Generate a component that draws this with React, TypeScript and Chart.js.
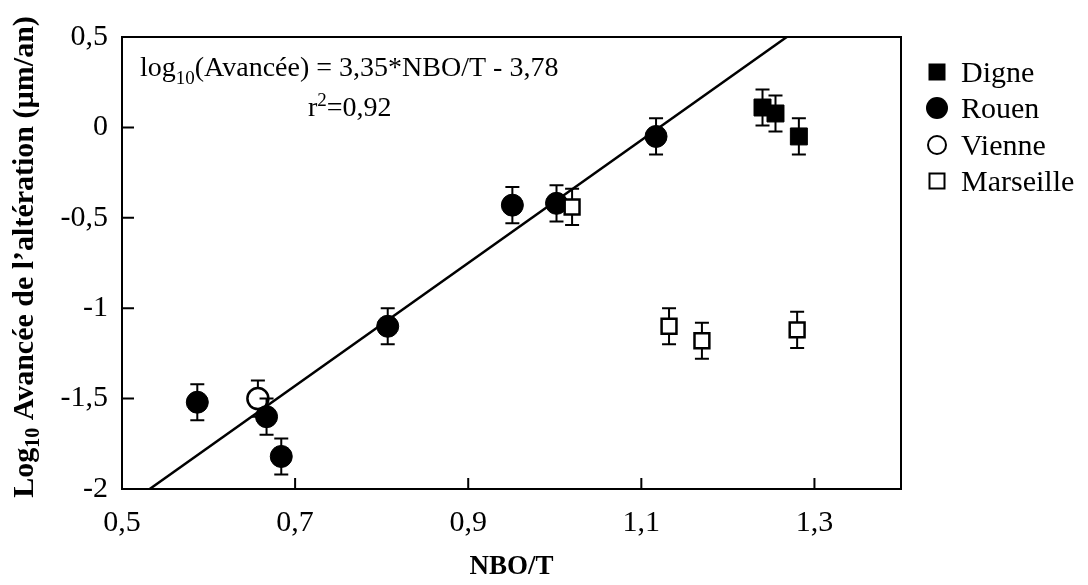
import React, { useEffect, useRef } from "react";
import { Chart, registerables } from "chart.js";

Chart.register(...registerables);

// ---- Data ----
const digneX = [1.24, 1.255, 1.282];
const digneY = [0.11, 0.077, -0.05];
const rouenX = [0.587, 0.667, 0.684, 0.807, 0.951, 1.002, 1.117];
const rouenY = [-1.52, -1.6, -1.82, -1.1, -0.43, -0.42, -0.05];
const vienneX = [0.657];
const vienneY = [-1.5];
const marseilleX = [1.02, 1.132, 1.17, 1.28];
const marseilleY = [-0.44, -1.1, -1.18, -1.12];
const errorHalf = 0.1;
const fitX = [0.532, 1.268];
const fitY = [-2, 0.5];
const xTicks = [0.5, 0.7, 0.9, 1.1, 1.3];
const yTicks = [0.5, 0, -0.5, -1, -1.5, -2];
const seriesNames = ["Digne", "Rouen", "Vienne", "Marseille"];
const equationMain = "(Avancée) = 3,35*NBO/T - 3,78";
const r2Text = "=0,92";
const xTitle = "NBO/T";
const yTitleRest = " Avancée de l’altération (µm/an)";

const FONT = "'Liberation Serif', 'Times New Roman', serif";

const pts = (xs: number[], ys: number[]) => xs.map((x, i) => ({ x, y: ys[i] }));
const fmt = (v: number) => String(v).replace(".", ",");

const decorPlugin = {
  id: "decor",
  beforeDatasetDraw(chart: any, args: any) {
    const ds = chart.data.datasets[args.index];
    if (!ds.errorBar) return;
    const ctx = chart.ctx;
    const xs = chart.scales.x;
    const ys = chart.scales.y;
    ctx.save();
    ctx.strokeStyle = "#000";
    ctx.lineWidth = 2;
    ds.data.forEach((p: any) => {
      const px = xs.getPixelForValue(p.x);
      const top = ys.getPixelForValue(p.y + errorHalf);
      const bot = ys.getPixelForValue(p.y - errorHalf);
      ctx.beginPath();
      ctx.moveTo(px, top);
      ctx.lineTo(px, bot);
      ctx.moveTo(px - 7, top);
      ctx.lineTo(px + 7, top);
      ctx.moveTo(px - 7, bot);
      ctx.lineTo(px + 7, bot);
      ctx.stroke();
    });
    ctx.restore();
  },
  afterDraw(chart: any) {
    const ctx = chart.ctx;
    const a = chart.chartArea;
    const xs = chart.scales.x;
    const ys = chart.scales.y;
    ctx.save();
    ctx.strokeStyle = "#000";
    ctx.lineWidth = 2;
    // frame
    ctx.strokeRect(a.left, a.top, a.right - a.left, a.bottom - a.top);
    // inward ticks
    ctx.beginPath();
    xTicks.forEach((v) => {
      const px = xs.getPixelForValue(v);
      ctx.moveTo(px, a.bottom);
      ctx.lineTo(px, a.bottom - 11);
    });
    yTicks.forEach((v) => {
      const py = ys.getPixelForValue(v);
      ctx.moveTo(a.left, py);
      ctx.lineTo(a.left + 12, py);
    });
    ctx.stroke();

    ctx.fillStyle = "#000";
    ctx.textBaseline = "alphabetic";
    // equation
    ctx.textAlign = "left";
    ctx.font = `28px ${FONT}`;
    let x0 = 140;
    const by = 76;
    ctx.fillText("log", x0, by);
    x0 += ctx.measureText("log").width;
    ctx.font = `19px ${FONT}`;
    ctx.fillText("10", x0, by + 8);
    x0 += ctx.measureText("10").width;
    ctx.font = `28px ${FONT}`;
    ctx.fillText(equationMain, x0, by);
    // r2
    let rx = 308;
    const ry = 116;
    ctx.fillText("r", rx, ry);
    rx += ctx.measureText("r").width;
    ctx.font = `19px ${FONT}`;
    ctx.fillText("2", rx, ry - 10);
    rx += ctx.measureText("2").width;
    ctx.font = `28px ${FONT}`;
    ctx.fillText(r2Text, rx, ry);

    // x title
    ctx.font = `bold 27px ${FONT}`;
    ctx.textAlign = "center";
    ctx.fillText(xTitle, (a.left + a.right) / 2, 574);

    // y title (rotated with subscript)
    ctx.save();
    ctx.translate(33, 257);
    ctx.rotate(-Math.PI / 2);
    ctx.textAlign = "left";
    ctx.font = `bold 30px ${FONT}`;
    const w1 = ctx.measureText("Log").width;
    const w3 = ctx.measureText(yTitleRest).width;
    ctx.font = `bold 20px ${FONT}`;
    const w2 = ctx.measureText("10").width;
    let tx = -(w1 + w2 + w3) / 2;
    ctx.font = `bold 30px ${FONT}`;
    ctx.fillText("Log", tx, 0);
    tx += w1;
    ctx.font = `bold 20px ${FONT}`;
    ctx.fillText("10", tx, 6);
    tx += w2;
    ctx.font = `bold 30px ${FONT}`;
    ctx.fillText(yTitleRest, tx, 0);
    ctx.restore();

    // legend
    const lx = 937;
    const rows = [72, 108, 145, 181];
    ctx.lineWidth = 2;
    // Digne: filled square
    ctx.fillRect(lx - 8.5, rows[0] - 8.5, 17, 17);
    // Rouen: filled circle
    ctx.beginPath();
    ctx.arc(lx, rows[1], 11, 0, Math.PI * 2);
    ctx.fill();
    // Vienne: open circle
    ctx.beginPath();
    ctx.arc(lx, rows[2], 9, 0, Math.PI * 2);
    ctx.fillStyle = "#fff";
    ctx.fill();
    ctx.stroke();
    // Marseille: open square
    ctx.strokeRect(lx - 7.5, rows[3] - 7.5, 15, 15);
    ctx.fillStyle = "#000";
    ctx.font = `30px ${FONT}`;
    ctx.textAlign = "left";
    seriesNames.forEach((n, i) => ctx.fillText(n, 961, rows[i] + 10));
    ctx.restore();
  },
};

export default function App() {
  const ref = useRef<HTMLCanvasElement | null>(null);
  useEffect(() => {
    if (!ref.current) return;
    const chart = new Chart(ref.current, {
      type: "scatter",
      data: {
        datasets: [
          {
            type: "line",
            label: "fit",
            data: pts(fitX, fitY),
            borderColor: "#000",
            borderWidth: 2.5,
            pointRadius: 0,
            fill: false,
            order: 10,
          } as any,
          {
            label: seriesNames[0],
            data: pts(digneX, digneY),
            pointStyle: "rect",
            pointRadius: 12,
            backgroundColor: "#000",
            borderColor: "#000",
            borderWidth: 1,
            errorBar: true,
            order: 0,
          } as any,
          {
            label: seriesNames[1],
            data: pts(rouenX, rouenY),
            pointStyle: "circle",
            pointRadius: 11,
            backgroundColor: "#000",
            borderColor: "#000",
            borderWidth: 1,
            errorBar: true,
            order: 1,
          } as any,
          {
            label: seriesNames[2],
            data: pts(vienneX, vienneY),
            pointStyle: "circle",
            pointRadius: 10.5,
            backgroundColor: "#fff",
            borderColor: "#000",
            borderWidth: 2.5,
            errorBar: true,
            order: 2,
          } as any,
          {
            label: seriesNames[3],
            data: pts(marseilleX, marseilleY),
            pointStyle: "rect",
            pointRadius: 10.5,
            backgroundColor: "#fff",
            borderColor: "#000",
            borderWidth: 2.5,
            errorBar: true,
            order: 0,
          } as any,
        ],
      },
      options: {
        responsive: false,
        animation: false,
        devicePixelRatio: 1,
        layout: { padding: { left: 0, top: 37, right: 187, bottom: 0 } },
        plugins: { legend: { display: false }, tooltip: { enabled: false } },
        scales: {
          x: {
            type: "linear",
            min: 0.5,
            max: 1.4,
            afterBuildTicks: (s: any) => {
              s.ticks = xTicks.map((v) => ({ value: v }));
            },
            afterFit: (s: any) => {
              s.height = 96;
            },
            ticks: {
              callback: (v: any) => fmt(v),
              font: { family: FONT, size: 30 },
              color: "#000",
              padding: 16,
              maxRotation: 0,
              autoSkip: false,
            },
            grid: { display: false, drawTicks: false, tickLength: 0 },
            border: { display: false },
          },
          y: {
            type: "linear",
            min: -2,
            max: 0.5,
            afterBuildTicks: (s: any) => {
              s.ticks = yTicks.map((v) => ({ value: v }));
            },
            afterFit: (s: any) => {
              s.width = 122;
            },
            ticks: {
              callback: (v: any) => fmt(v),
              font: { family: FONT, size: 30 },
              color: "#000",
              padding: 14,
              autoSkip: false,
            },
            grid: { display: false, drawTicks: false, tickLength: 0 },
            border: { display: false },
          },
        },
      },
      plugins: [decorPlugin],
    } as any);
    return () => chart.destroy();
  }, []);
  return (
    <div style={{ position: "absolute", left: 0, top: 0, width: 1088, height: 585, background: "#fff" }}>
      <canvas ref={ref} width={1088} height={585} style={{ display: "block" }} />
    </div>
  );
}
